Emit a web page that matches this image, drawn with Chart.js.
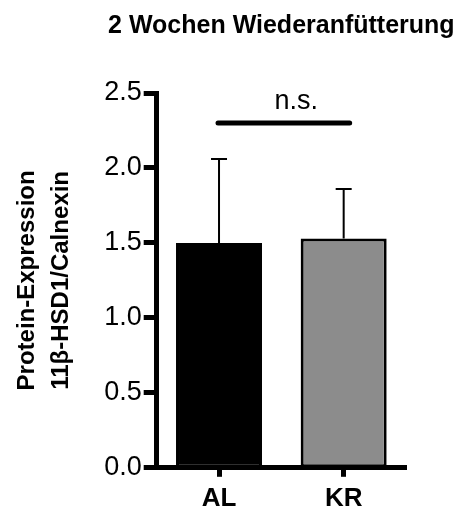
<!DOCTYPE html>
<html>
<head>
<meta charset="utf-8">
<script src="https://cdn.jsdelivr.net/npm/chart.js@4"></script>
<style>
  html, body { margin: 0; padding: 0; background: #fff; }
  #wrap { width: 459px; height: 510px; }
</style>
</head>
<body>
<div id="wrap"><canvas id="myChart1"></canvas></div>
<script>
// Daten
const groups = ["AL", "KR"];
const means = [1.50, 1.53];
const sdUp = [0.56, 0.33];
const barColors = ["#000000", "#8c8c8c"];
const sigLevel = 2.30;
const sigText = "n.s.";
const titleText = "2 Wochen Wiederanfütterung";
const yTitle = ["Protein-Expression", "11β-HSD1/Calnexin"];

const FONT = "'Liberation Sans', Arial, sans-serif";

// Fehlerbalken + Signifikanz + Titel
const extras = {
    id: "extras",
    afterDatasetsDraw(chart) {
        const ctx = chart.ctx;
        const y = chart.scales.y;
        const x = chart.scales.x;
        const bars = chart.getDatasetMeta(0).data;
        ctx.save();
        ctx.strokeStyle = "#000";
        ctx.lineWidth = 2;
        bars.forEach((bar, i) => {
            const top = y.getPixelForValue(means[i] + sdUp[i]);
            ctx.beginPath();
            ctx.moveTo(bar.x, bar.y);
            ctx.lineTo(bar.x, top);
            ctx.moveTo(bar.x - 8, top);
            ctx.lineTo(bar.x + 8, top);
            ctx.stroke();
        });
        // n.s. Linie
        const sy = y.getPixelForValue(sigLevel);
        const x1 = x.getPixelForValue(0);
        const x2 = x.getPixelForValue(1);
        ctx.lineWidth = 5;
        ctx.lineCap = "round";
        ctx.beginPath();
        ctx.moveTo(x1 - 1, sy);
        ctx.lineTo(x2 + 6, sy);
        ctx.stroke();
        ctx.fillStyle = "#000";
        ctx.font = "27px " + FONT;
        ctx.textAlign = "center";
        ctx.textBaseline = "alphabetic";
        ctx.fillText(sigText, (x1 + x2) / 2 + 15, sy - 14);
        // Titel
        const ca = chart.chartArea;
        ctx.font = "bold 25px " + FONT;
        ctx.fillText(titleText, (ca.left + ca.right) / 2, 33);
        ctx.restore();
    }
};

window.onload = function(){
    const ctx = document.getElementById("myChart1").getContext("2d");
    const myChart = new Chart(ctx, {
        type: "bar",
        data: {
            labels: groups,
            datasets: [
                {
                    data: means,
                    backgroundColor: barColors,
                    borderColor: "#000",
                    borderWidth: 3,
                    borderSkipped: false,
                    barPercentage: 0.69,
                    categoryPercentage: 1.0,
                },
            ],
        },
        options: {
            responsive: true,
            maintainAspectRatio: false,
            animation: false,
            devicePixelRatio: 1,
            layout: { padding: { top: 93, right: 53, left: 10, bottom: -10 } },
            plugins: {
                legend: { display: false },
                tooltip: { enabled: false },
                title: { display: false },
            },
            scales: {
                x: {
                    grid: {
                        offset: false,
                        drawOnChartArea: false,
                        drawTicks: true,
                        tickLength: 9,
                        tickWidth: 5,
                        tickColor: "#000",
                    },
                    border: { display: true, color: "#000", width: 5 },
                    ticks: {
                        color: "#000",
                        padding: 6,
                        font: { family: FONT, size: 26, weight: "bold" },
                    },
                },
                y: {
                    min: 0,
                    max: 2.5,
                    grid: {
                        drawOnChartArea: false,
                        drawTicks: true,
                        tickLength: 13,
                        tickWidth: 5,
                        tickColor: "#000",
                    },
                    border: { display: true, color: "#000", width: 5 },
                    ticks: {
                        stepSize: 0.5,
                        color: "#000",
                        padding: 2,
                        font: { family: FONT, size: 27 },
                        callback: (v) => v.toFixed(1),
                    },
                    title: {
                        display: true,
                        text: yTitle,
                        color: "#000",
                        padding: { top: 0, bottom: 24 },
                        font: { family: FONT, size: 24, weight: "bold", lineHeight: 1.42 },
                    },
                },
            },
        },
        plugins: [extras],
    });
};
</script>
</body>
</html>
